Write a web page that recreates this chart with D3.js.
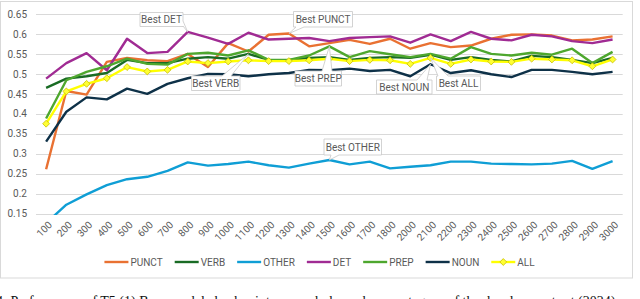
<!DOCTYPE html>
<html>
<head>
<meta charset="utf-8">
<script src="https://cdn.jsdelivr.net/npm/d3@7"></script>
<style>
  body { margin: 0; background: #fff; overflow: hidden; }
  svg { display: block; font-family: Roboto, "Open Sans", sans-serif; }
</style>
</head>
<body>
<svg id="chart" width="640" height="299"></svg>
<script>
const steps = ['100', '200', '300', '400', '500', '600', '700', '800', '900', '1000',
  '1100', '1200', '1300', '1400', '1500', '1600', '1700', '1800', '2000', '2100',
  '2200', '2300', '2400', '2500', '2600', '2700', '2800', '2900', '3000'];

const punct = [0.261, 0.457, 0.448, 0.530, 0.540, 0.534, 0.532, 0.550, 0.517, 0.577,
  0.556, 0.598, 0.601, 0.569, 0.577, 0.585, 0.575, 0.588, 0.563, 0.577,
  0.567, 0.571, 0.588, 0.598, 0.599, 0.596, 0.584, 0.586, 0.594];
const verb = [0.465, 0.488, 0.494, 0.502, 0.535, 0.527, 0.527, 0.538, 0.542, 0.538,
  0.550, 0.535, 0.534, 0.540, 0.542, 0.535, 0.540, 0.542, 0.540, 0.548,
  0.535, 0.542, 0.535, 0.531, 0.545, 0.542, 0.535, 0.527, 0.540];
const other = [0.126, 0.172, 0.198, 0.221, 0.236, 0.242, 0.257, 0.278, 0.270, 0.274,
  0.280, 0.271, 0.265, 0.275, 0.284, 0.273, 0.280, 0.263, 0.267, 0.271,
  0.280, 0.280, 0.275, 0.274, 0.273, 0.275, 0.282, 0.262, 0.281];
const det = [0.488, 0.527, 0.552, 0.509, 0.588, 0.552, 0.555, 0.605, 0.591, 0.575,
  0.603, 0.586, 0.588, 0.590, 0.582, 0.590, 0.592, 0.594, 0.578, 0.599,
  0.582, 0.605, 0.588, 0.584, 0.598, 0.594, 0.582, 0.577, 0.586];
const prep = [0.388, 0.484, 0.505, 0.519, 0.538, 0.525, 0.523, 0.550, 0.553, 0.546,
  0.559, 0.535, 0.535, 0.546, 0.569, 0.542, 0.557, 0.549, 0.542, 0.550,
  0.538, 0.567, 0.550, 0.546, 0.553, 0.548, 0.563, 0.527, 0.555];
const noun = [0.330, 0.405, 0.441, 0.436, 0.463, 0.450, 0.475, 0.489, 0.500, 0.499,
  0.494, 0.499, 0.502, 0.510, 0.509, 0.513, 0.507, 0.510, 0.494, 0.524,
  0.502, 0.509, 0.499, 0.492, 0.510, 0.510, 0.505, 0.499, 0.505];
const all = [0.375, 0.456, 0.475, 0.489, 0.517, 0.506, 0.510, 0.531, 0.527, 0.531,
  0.534, 0.532, 0.532, 0.534, 0.538, 0.532, 0.535, 0.534, 0.525, 0.540,
  0.525, 0.536, 0.531, 0.530, 0.538, 0.536, 0.534, 0.519, 0.536];

const yTicks = [0.15, 0.2, 0.25, 0.3, 0.35, 0.4, 0.45, 0.5, 0.55, 0.6, 0.65];

const series = [
  { name: 'PUNCT', values: punct, color: '#E97132' },
  { name: 'VERB', values: verb, color: '#196B24' },
  { name: 'OTHER', values: other, color: '#0F9ED5' },
  { name: 'DET', values: det, color: '#A02B93' },
  { name: 'PREP', values: prep, color: '#4EA72E' },
  { name: 'NOUN', values: noun, color: '#0E3148' },
  { name: 'ALL', values: all, color: '#FFFF00', marker: true },
];

// callouts: which series / step they mark, box and pointer base
const callouts = [
  { text: 'Best DET', series: 'DET', step: '800', box: [140, 12.5, 183, 26.5], edge: 'right', base: [21, 26] },
  { text: 'Best PUNCT', series: 'PUNCT', step: '1300', box: [293.5, 11.5, 352.5, 27], edge: 'bottom', base: [296, 304] },
  { text: 'Best VERB', series: 'VERB', step: '1100', box: [191.5, 76, 240, 90.5], edge: 'top', base: [222, 231] },
  { text: 'Best PREP', series: 'PREP', step: '1500', box: [295, 71, 341.5, 86], edge: 'top', base: [322, 332] },
  { text: 'Best NOUN', series: 'NOUN', step: '2100', box: [376.5, 80, 432, 94], edge: 'top', base: [417, 427] },
  { text: 'Best ALL', series: 'ALL', step: '2100', box: [436.5, 76, 480.5, 90.5], edge: 'top', base: [438, 448] },
  { text: 'Best OTHER', series: 'OTHER', step: '1500', box: [324, 139, 381.5, 155], edge: 'bottom', base: [331, 339] },
];

const LEFT = 36;
const RIGHT = 622.7;
const TOP = 14;
const BOTTOM = 213.5;
const GREY = '#595959';

const svg = d3.select('#chart');

const x = d3.scalePoint()
  .domain(steps)
  .range([LEFT, RIGHT])
  .padding(0.5);
const y = d3.scaleLinear()
  .domain([0.15, 0.65])
  .range([BOTTOM, TOP]);

// chart frame
svg.append('rect')
  .attr('x', 0.5).attr('y', 1.5)
  .attr('width', 632).attr('height', 276.5)
  .attr('fill', '#fff')
  .attr('stroke', '#d9d9d9');

// grid
svg.append('g')
  .selectAll('line')
  .data(yTicks)
  .enter()
  .append('line')
  .attr('x1', LEFT).attr('x2', RIGHT)
  .attr('y1', d => Math.round(y(d)) + 0.5)
  .attr('y2', d => Math.round(y(d)) + 0.5)
  .attr('stroke', '#d9d9d9')
  .attr('stroke-width', 1);

// y axis labels
const leftAxis = d3.axisLeft(y).tickValues(yTicks).tickSize(0).tickPadding(0)
  .tickFormat(d => String(d));
svg.append('g')
  .attr('transform', 'translate(27,0)')
  .call(leftAxis)
  .call(g => g.select('.domain').remove())
  .call(g => g.selectAll('text')
    .attr('fill', GREY)
    .style('font-size', '10px')
    .style('font-family', 'Roboto, sans-serif'));

// x axis labels
const bottomAxis = d3.axisBottom(x).tickSize(0).tickPadding(0);
svg.append('g')
  .attr('transform', `translate(0,${BOTTOM})`)
  .call(bottomAxis)
  .call(g => g.select('.domain').remove())
  .call(g => g.selectAll('text')
    .attr('fill', GREY)
    .style('font-size', '10px')
    .style('font-family', 'Roboto, sans-serif')
    .attr('text-anchor', 'end')
    .attr('dy', null)
    .attr('y', 0)
    .attr('transform', 'translate(6,12) rotate(-45)'));

// lines
svg.append('clipPath').attr('id', 'plot-clip')
  .append('rect')
  .attr('x', LEFT).attr('y', 0)
  .attr('width', RIGHT - LEFT).attr('height', BOTTOM + 1.5);

const line = d3.line()
  .x((d, i) => x(steps[i]))
  .y(d => y(d));

const plot = svg.append('g').attr('clip-path', 'url(#plot-clip)');
series.forEach(s => {
  plot.append('path')
    .datum(s.values)
    .attr('d', line)
    .attr('fill', 'none')
    .attr('stroke', s.color)
    .attr('stroke-width', 2.4)
    .attr('stroke-linejoin', 'round');
  if (s.marker) {
    plot.selectAll('.mk')
      .data(s.values)
      .enter()
      .append('path')
      .attr('d', d3.symbol(d3.symbolDiamond2, 30))
      .attr('transform', (d, i) => `translate(${x(steps[i])},${y(d)})`)
      .attr('fill', '#ffff33')
      .attr('stroke', '#c8be00')
      .attr('stroke-width', 0.8);
  }
});

// callouts
function calloutPath(c, px, py) {
  const [x0, y0, x1, y1] = c.box;
  const [b0, b1] = c.base;
  const p = d3.path();
  p.moveTo(x0, y0);
  if (c.edge === 'top') { p.lineTo(b0, y0); p.lineTo(px, py); p.lineTo(b1, y0); }
  p.lineTo(x1, y0);
  if (c.edge === 'right') { p.lineTo(x1, b0); p.lineTo(px, py); p.lineTo(x1, b1); }
  p.lineTo(x1, y1);
  if (c.edge === 'bottom') { p.lineTo(b1, y1); p.lineTo(px, py); p.lineTo(b0, y1); }
  p.lineTo(x0, y1);
  p.closePath();
  return p.toString();
}

const notes = svg.append('g');
callouts.forEach(c => {
  const s = series.find(d => d.name === c.series);
  const i = steps.indexOf(c.step);
  const px = x(c.step);
  const py = y(s.values[i]);
  notes.append('path')
    .attr('d', calloutPath(c, px, py))
    .attr('fill', '#fff')
    .attr('stroke', '#c8c8c8')
    .attr('stroke-width', 0.8);
  notes.append('text')
    .attr('x', (c.box[0] + c.box[2]) / 2)
    .attr('y', (c.box[1] + c.box[3]) / 2 + 3.5)
    .attr('text-anchor', 'middle')
    .attr('fill', GREY)
    .style('font-size', '10px')
    .text(c.text);
});

// legend
const legend = svg.append('g').attr('transform', 'translate(0,262)');
let lx = 0;
const items = legend.selectAll('g')
  .data(series)
  .enter()
  .append('g');
items.each(function (s) {
  const g = d3.select(this);
  g.append('line')
    .attr('x1', 0).attr('x2', 24)
    .attr('stroke', s.color)
    .attr('stroke-width', 2.4);
  if (s.marker) {
    g.append('path')
      .attr('d', d3.symbol(d3.symbolDiamond2, 30))
      .attr('transform', 'translate(12,0)')
      .attr('fill', '#ffff33')
      .attr('stroke', '#c8be00')
      .attr('stroke-width', 0.8);
  }
  const t = g.append('text')
    .attr('x', 26)
    .attr('y', 3.5)
    .attr('fill', GREY)
    .style('font-size', '10px')
    .text(s.name);
  const w = 26 + t.node().getComputedTextLength();
  g.attr('transform', `translate(${lx},0)`);
  lx += w + 12;
});
const legendWidth = lx - 12;
legend.attr('transform', `translate(${112 + (415 - legendWidth) / 2},262)`);

// caption of the figure, cut by the image border
svg.append('text')
  .attr('x', -4)
  .attr('y', 306)
  .attr('fill', '#111')
  .style('font-family', '"Liberation Serif", "DejaVu Serif", serif')
  .style('font-size', '14px')
  .text('4: Performance of T5 (1) Base model checkpoints on each dependency category of the development set (2024)');
</script>
</body>
</html>
